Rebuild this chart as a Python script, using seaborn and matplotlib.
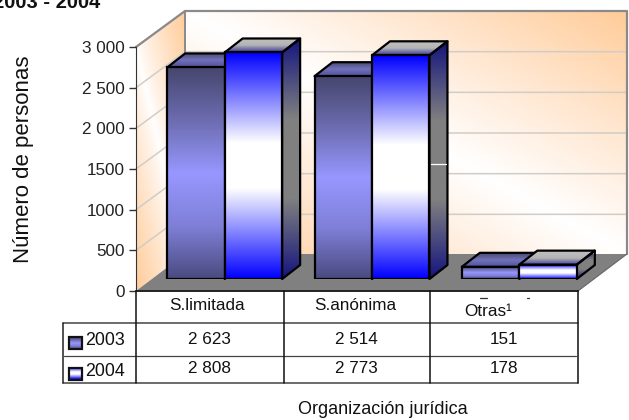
import numpy as np
import pandas as pd
import matplotlib
matplotlib.use("Agg")
import matplotlib.pyplot as plt
from matplotlib.colors import LinearSegmentedColormap as LSC
from matplotlib.patches import Polygon, Rectangle
import seaborn as sns

categories = ["S.limitada", "S.anónima", "Otras"]
years = ["2003", "2004"]
values_2003 = [2623, 2514, 151]
values_2004 = [2808, 2773, 178]
labels_2003 = ["2 623", "2 514", "151"]
labels_2004 = ["2 808", "2 773", "178"]
ytick_values = [0, 500, 1000, 1500, 2000, 2500, 3000]
ytick_labels = ["0", "500", "1000", "1500", "2 000", "2 500", "3 000"]

sns.set_style("white")
plt.rcParams["font.family"] = ["Liberation Sans", "DejaVu Sans"]

W, H = 629, 420
fig = plt.figure(figsize=(W / 100, H / 100), dpi=100)

def px_axes(x0, ytop, x1, ybot):
    return [x0 / W, 1 - ybot / H, (x1 - x0) / W, (ybot - ytop) / H]

# colour ramps
wall_cm = LSC.from_list("wall", ["#ffffff", "#ffe6cf", "#ffcc99"])
front_03 = LSC.from_list("f3", ["#46466e", "#6c6cb0", "#9797ff", "#7f7fd8", "#4a4a80"])
front_04 = LSC.from_list("f4", ["#0000ff", "#8080ff", "#ffffff", "#ffffff", "#8080ff", "#0000ff"])
side_03 = LSC.from_list("s3", ["#20207a", "#707090", "#20207a"])
side_04 = LSC.from_list("s4", ["#14147e", "#808080", "#808080", "#14147e"])
top_03 = LSC.from_list("t3", ["#4a4a70", "#7272bc", "#50509a"])
top_04 = LSC.from_list("t4", ["#c0c0c0", "#b4b4b4", "#3c3c9c"])

# background layer in pixel coordinates
bg = fig.add_axes([0, 0, 1, 1], zorder=0)
bg.set_xlim(0, W)
bg.set_ylim(H, 0)
bg.axis("off")

# walls and floor, orange on the two far corners
xx, yy = np.meshgrid(np.linspace(0, 1, 300), np.linspace(0, 1, 300))
bg.imshow(np.abs(xx - yy), cmap=wall_cm, vmin=0, vmax=1, extent=(185, 627, 254, 11), aspect="auto", zorder=1)
left_wall = Polygon([(136, 47), (185, 11), (185, 254), (136, 291)], transform=bg.transData, fc="none", ec="none")
bg.add_patch(left_wall)
# left wall shears with depth, so its ramp is computed on the sheared grid
v = yy * 280 / 244 - (1 - xx) * 36 / 244
im = bg.imshow(np.clip(np.abs(xx - v), 0, 1) ** 0.8, cmap=wall_cm, vmin=0, vmax=1,
               extent=(136, 185, 291, 11), aspect="auto", zorder=1)
im.set_clip_path(left_wall)
bg.add_patch(Polygon([(136, 291), (185, 254), (627, 254), (578, 291)], fc="#808080", ec="none", zorder=2))

scale = 244 / 3000
for t in ytick_values[1:]:
    y = 291 - t * scale
    bg.plot([136, 185, 627], [y, y - 36, y - 36], color="#d0cdc8", lw=1.1, zorder=3)
bg.plot([136, 185, 627, 627], [47, 11, 11, 254], color="#8a8a8a", lw=1.6, zorder=4)
bg.plot([185, 185], [11, 254], color="#8a8a8a", lw=1.4, zorder=4)
bg.plot([627, 578], [254, 291], color="#666666", lw=0.8, zorder=4)

# y axis on the front edge of the left wall
yax = fig.add_axes(px_axes(136, 47, 137, 291), zorder=1)
yax.patch.set_alpha(0)
yax.set_ylim(0, 3000)
yax.set_xticks([])
yax.set_yticks(ytick_values, ytick_labels, fontsize=12.3, color="#222222")
yax.tick_params(axis="y", left=True, length=5, width=1, color="#333333", pad=3)
for s in ["top", "right", "bottom"]:
    yax.spines[s].set_visible(False)
yax.spines["left"].set_color("#333333")

# bars sit in a plane set back from the front of the floor
bx0, bx1, by0, by1 = 151, 593, 279, 37
ax = fig.add_axes(px_axes(bx0, by1, bx1, by0), zorder=2)
ax.patch.set_alpha(0)
df = pd.DataFrame({
    "cat": categories * 2,
    "year": [years[0]] * 3 + [years[1]] * 3,
    "val": values_2003 + values_2004,
})
sns.barplot(data=df, x="cat", y="val", hue="year", palette=["#9797ff", "#0000ff"], width=0.78, gap=0,
            errorbar=None, legend=False, edgecolor="black", linewidth=1.6, ax=ax)
ax.set_xlim(-0.5, 2.5)
ax.set_ylim(0, 3000)
ax.axis("off")

dx = 18 * 3 / (bx1 - bx0)
dy = 14 * 3000 / (by0 - by1)
ramp = np.linspace(0, 1, 256)[:, None]

def face(pts, cm, z):
    poly = Polygon(pts, fc="none", ec="black", lw=1.6, zorder=z + 0.1, clip_on=False, joinstyle="round")
    ax.add_patch(poly)
    xs = [p[0] for p in pts]
    ys = [p[1] for p in pts]
    img = ax.imshow(ramp, cmap=cm, aspect="auto", origin="upper", zorder=z, clip_on=True,
                    extent=(min(xs), max(xs), min(ys), max(ys)))
    img.set_clip_path(poly)

ramps = [(front_03, side_03, top_03), (front_04, side_04, top_04)]
for i, cont in enumerate(ax.containers):
    for j, bar in enumerate(cont.patches):
        x, w, h = bar.get_x(), bar.get_width(), bar.get_height()
        z = 5 + j * 3 + i
        f, s, t = ramps[i]
        face([(x + w, 0), (x + w + dx, dy), (x + w + dx, h + dy), (x + w, h)], s, z)
        face([(x, h), (x + dx, h + dy), (x + w + dx, h + dy), (x + w, h)], t, z)
        ax.imshow(ramp, cmap=f, aspect="auto", origin="upper", zorder=z + 0.2, extent=(x, x + w, 0, h))
        bar.set_facecolor("none")
        bar.set_zorder(z + 0.3)
ax.set_xlim(-0.5, 2.5)
ax.set_ylim(0, 3000)

# table and texts on top
top = fig.add_axes([0, 0, 1, 1], zorder=3)
top.patch.set_alpha(0)
top.set_xlim(0, W)
top.set_ylim(H, 0)
top.axis("off")

cols = [136, 283.5, 429.5, 578]
top.plot([136, 578], [291, 291], color="#222222", lw=1.4)
top.plot([63, 578], [323, 323], color="#444444", lw=1.1)
top.plot([64, 576], [355.5, 355.5], color="#444444", lw=0.9)
top.plot([63, 578], [383, 383], color="#444444", lw=1.1)
top.plot([63, 63], [323, 383], color="#222222", lw=1.1)
for c in cols:
    top.plot([c, c], [291, 383], color="#111111", lw=1.1)

centers = [(cols[i] + cols[i + 1]) / 2 for i in range(3)]
txt = dict(ha="center", va="center", color="#111111", fontsize=12.3)
top.text(centers[0] - 2.5, 305, categories[0], **txt)
top.text(centers[1] - 1, 305, categories[1], **txt)
top.text(488, 311.5, categories[2] + "¹", **txt)
for i in range(3):
    top.text(centers[i], 339.5, labels_2003[i], **txt)
    top.text(centers[i], 368.5, labels_2004[i], **txt)
# bits of a clipped label above Otras
top.plot([480, 487], [297.5, 297.5], color="#333333", lw=0.9)
top.plot([527, 528.5], [298, 298], color="#333333", lw=0.9)
# stray white tick on the side of the second bar
top.plot([431, 446], [163.5, 163.5], color="white", lw=0.9)

for k, (y0, cm) in enumerate([(337, front_03), (367.5, front_04)]):
    top.imshow(ramp, cmap=cm, aspect="auto", extent=(69, 82, y0 + 12, y0), zorder=2)
    top.add_patch(Rectangle((69, y0), 13, 12, fc="none", ec="#111111", lw=1.6, zorder=3))
    top.text(85.5, y0 + 3.5, years[k], ha="left", va="center", color="#111111", fontsize=12.8)
top.set_xlim(0, W)
top.set_ylim(H, 0)

top.text(24, 159, "Número de personas", rotation=90, ha="center", va="center", color="#111111", fontsize=16)
top.text(383, 409, "Organización jurídica", ha="center", va="center", color="#111111", fontsize=13)
top.text(100, 8, "2003 - 2004", ha="right", va="baseline", color="#111111", fontsize=14.5, fontweight="bold", clip_on=False)

fig.savefig("out.png", dpi=100)
